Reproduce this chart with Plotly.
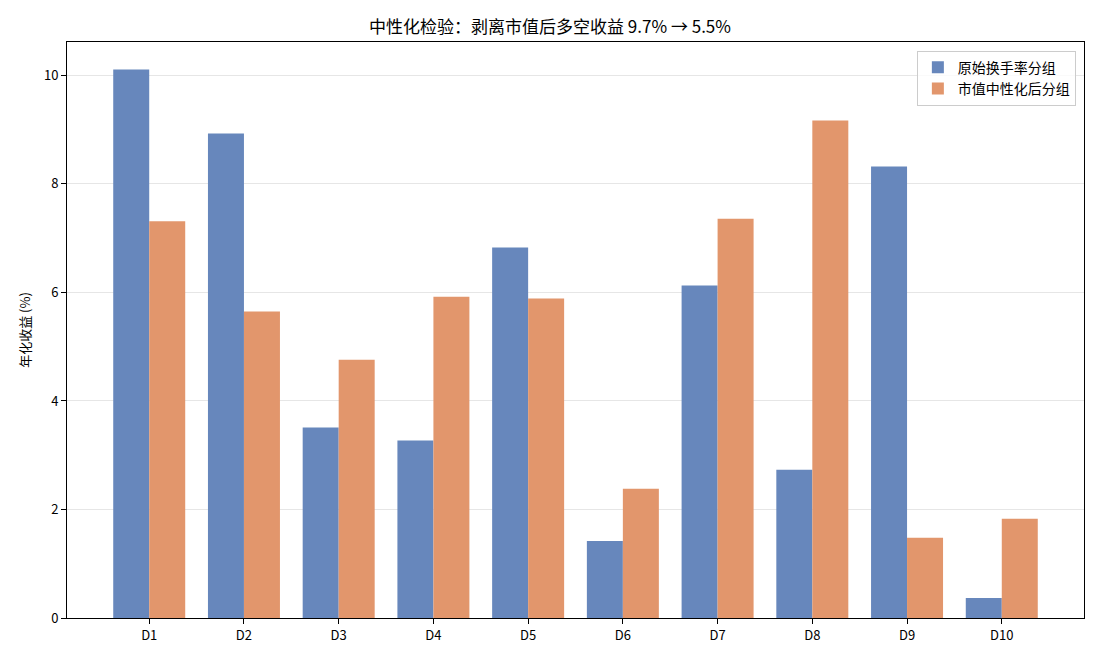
import plotly.graph_objects as go

categories = ["D1", "D2", "D3", "D4", "D5", "D6", "D7", "D8", "D9", "D10"]
raw_returns = [10.11, 8.93, 3.51, 3.27, 6.83, 1.42, 6.13, 2.73, 8.32, 0.37]
neutral_returns = [7.31, 5.65, 4.76, 5.92, 5.89, 2.38, 7.36, 9.17, 1.48, 1.83]
series_names = ["原始换手率分组", "市值中性化后分组"]
title_text = "中性化检验：剥离市值后多空收益 9.7% → 5.5%"
y_title = "年化收益 (%)"

FONT = "Noto Sans CJK SC, DejaVu Sans, sans-serif"
w = 0.38
idx = list(range(len(categories)))

fig = go.Figure()
fig.add_trace(go.Bar(x=[i - w / 2 for i in idx], y=raw_returns, width=w, name=series_names[0],
                     marker=dict(color="#6787BC", line=dict(width=0))))
fig.add_trace(go.Bar(x=[i + w / 2 for i in idx], y=neutral_returns, width=w, name=series_names[1],
                     marker=dict(color="#E2966C", line=dict(width=0))))

ymax = max(max(raw_returns), max(neutral_returns)) * 1.05
fig.update_layout(
    width=1100, height=660,
    margin=dict(l=67, r=16, t=42, b=42),
    paper_bgcolor="white", plot_bgcolor="white",
    font=dict(family=FONT, size=13, color="#000"),
    title=dict(text=title_text, x=0.5, xanchor="center", y=1 - 27 / 660, yanchor="middle",
               font=dict(size=17, family=FONT)),
    barmode="overlay",
    showlegend=True,
    legend=dict(x=0.992, y=0.985, xanchor="right", yanchor="top", bgcolor="rgba(255,255,255,0.8)",
                bordercolor="#cccccc", borderwidth=1, font=dict(size=14, family=FONT),
                tracegroupgap=4),
    xaxis=dict(range=[-0.868, len(categories) - 1 + 0.868], tickmode="array", tickvals=idx,
               ticktext=categories, showgrid=False, zeroline=False, showline=True, linecolor="#000",
               linewidth=1, mirror=True, ticks="outside", ticklen=5, tickcolor="#000",
               tickfont=dict(size=13)),
    yaxis=dict(range=[0, ymax], dtick=2, showgrid=True, gridcolor="#e6e6e6", gridwidth=1,
               zeroline=False, showline=True, linecolor="#000", linewidth=1, mirror=True,
               ticks="outside", ticklen=5, tickcolor="#000", tickfont=dict(size=13),
               title=dict(text=y_title, font=dict(size=13), standoff=10)),
)
fig.write_html("out.html")
